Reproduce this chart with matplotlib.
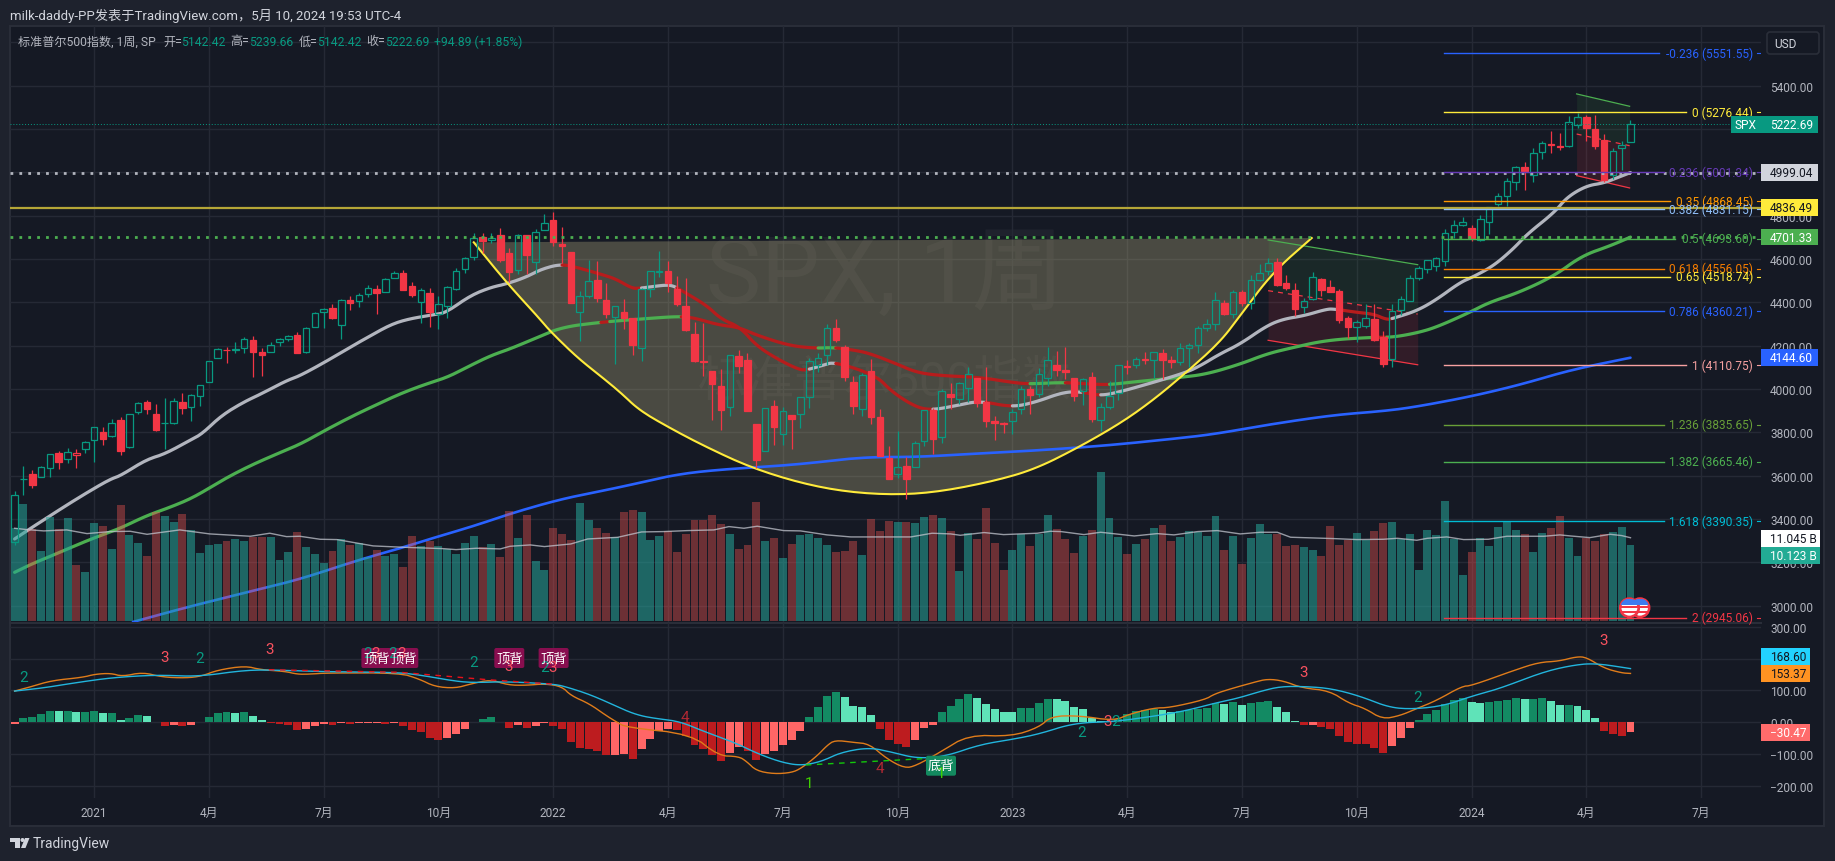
# -*- coding:utf-8 -*-
import numpy as np
import matplotlib
matplotlib.use('Agg')
import matplotlib.pyplot as plt
from matplotlib.patches import Rectangle, Circle, Polygon, FancyBboxPatch

plt.rcParams['font.family'] = ['Roboto', 'Noto Sans CJK SC', 'DejaVu Sans']

W, H = 1835, 862

opens = [3296,3583,3610,3594,3634,3705,3675,3694,3723,3764,3803,3781,3857,
         3731,3892,3939,3885,3842,3844,3942,3916,3969,4034,4142,4179,4185,
         4191,4228,4169,4170,4216,4229,4248,4173,4285,4356,4372,4296,4409,
         4406,4438,4461,4450,4513,4535,4474,4402,4442,4348,4385,4463,4553,
         4610,4701,4689,4712,4628,4548,4710,4587,4733,
         4778,4670,4632,4356,4431,4505,4412,4332,4354,4327,4188,4462,4541,
         4547,4462,4385,4256,4130,4081,4013,3919,4151,4134,3838,3715,3920,
         3792,3880,3883,3965,4112,4155,4281,4195,4034,3909,4083,3871,3682,
         3610,3647,3638,3762,3901,3780,3977,3956,4005,4052,3939,3853,3843,
         3853,3910,3999,3978,4049,4111,4090,4052,3992,4055,3856,3917,3982,
         4102,4110,4138,4134,4166,4136,4126,4190,4205,4282,4298,4396,4344,
         4450,4395,4505,4543,4584,4491,4458,4380,4415,4510,4473,4453,4330,
         4284,4289,4321,4239,4140,4364,4406,4512,4554,4569,4593,4726,4758,
         4745,4690,4772,4853,4892,4957,5026,4989,5093,5131,5123,5123,5219,
         5257,5201,5149,4987,5114,5142.42]
closes = [3509,3585,3557,3638,3699,3663,3709,3703,3756,3824,3768,3841,3714,
          3886,3934,3906,3811,3842,3943,3913,3974,4019,4128,4185,4180,4181,
          4232,4173,4155,4204,4229,4247,4166,4280,4352,4369,4327,4411,4395,
          4436,4468,4441,4509,4535,4458,4432,4455,4357,4391,4471,4544,4605,
          4697,4682,4697,4594,4538,4712,4620,4725,4766,
          4677,4662,4397,4431,4500,4418,4348,4384,4328,4204,4463,4543,4545,
          4488,4392,4271,4131,4123,4023,3901,4158,4108,3900,3674,3911,3825,
          3899,3863,3961,4130,4145,4280,4228,4057,3924,4067,3873,3693,3585,
          3639,3583,3752,3901,3770,3992,3965,4026,4071,3934,3852,3845,3839,
          3895,3999,3973,4070,4136,4090,4079,3970,4045,3861,3916,3970,4109,
          4105,4137,4133,4169,4136,4124,4191,4205,4282,4298,4409,4348,4450,
          4398,4505,4536,4582,4478,4464,4369,4405,4515,4457,4450,4320,4288,
          4308,4327,4224,4117,4358,4415,4514,4559,4595,4604,4719,4755,4770,
          4697,4783,4840,4891,4958,5027,5006,5089,5137,5124,5117,5234,5254,
          5204,5123,4967,5100,5128,5222.69]
highs = [3529,3646,3628,3644,3699,3712,3726,3723,3760,3826,3823,3861,3870,
         3887,3938,3950,3929,3960,3960,3983,3978,4020,4130,4191,4195,4219,
         4238,4245,4188,4219,4234,4250,4262,4286,4356,4372,4393,4415,4429,
         4441,4480,4480,4514,4546,4549,4492,4466,4466,4429,4475,4559,4608,
         4718,4718,4718,4743,4652,4714,4712,4740,4808,
         4819,4749,4632,4453,4596,4590,4490,4385,4416,4327,4466,4546,4637,
         4593,4520,4512,4308,4307,4081,4091,4158,4178,4168,3838,3913,3950,
         3918,3880,3964,4141,4167,4299,4325,4204,4062,4076,4139,3906,3736,
         3806,3685,3762,3905,3911,4001,4028,4034,4100,4052,4100,3876,3846,
         3906,4015,4015,4095,4195,4176,4195,4052,4049,4079,3937,4039,4110,
         4133,4150,4169,4170,4186,4154,4212,4212,4290,4323,4448,4409,4458,
         4456,4527,4578,4607,4607,4527,4490,4418,4542,4514,4505,4461,4338,
         4320,4394,4394,4268,4393,4428,4526,4568,4596,4610,4739,4778,4794,
         4755,4802,4842,4907,4975,5030,5048,5112,5145,5190,5180,5262,5273,
         5264,5263,5179,5111,5146,5239.66]
lows = [3279,3511,3543,3594,3594,3633,3660,3636,3707,3663,3740,3780,3694,
        3726,3885,3884,3805,3723,3840,3885,3853,3923,4034,4142,4118,4165,
        4168,4056,4061,4170,4197,4220,4165,4165,4286,4281,4321,4233,4367,
        4379,4424,4347,4450,4513,4455,4427,4306,4288,4278,4329,4459,4537,
        4595,4630,4672,4585,4495,4532,4531,4531,4733,
        4662,4582,4395,4222,4420,4401,4327,4114,4279,4157,4130,4424,4517,
        4450,4381,4267,4124,4062,3858,3810,3875,4073,3900,3636,3715,3741,
        3743,3721,3820,3911,4079,4112,4218,4037,3885,3876,3837,3693,3584,
        3591,3491,3638,3735,3698,3751,3906,3933,3938,3918,3827,3765,3795,
        3794,3887,3885,3965,4015,4060,4047,3943,3925,3847,3808,3908,3951,
        4069,4098,4114,4049,4048,4099,4109,4103,4166,4268,4272,4341,4328,
        4385,4371,4500,4526,4474,4458,4335,4350,4411,4431,4448,4304,4235,
        4217,4283,4220,4104,4103,4340,4405,4505,4537,4546,4568,4699,4751,
        4682,4682,4714,4845,4845,4918,4920,4954,5061,5091,5105,5117,5203,
        5146,5107,4954,4969,5011,5142.42]

volumes = [12.35,15.53,12.21,9.29,13.85,12.21,13.67,7.43,6.50,13.01,12.61,9.56,15.40,11.42,10.35,8.63,14.42,13.94,13.14,14.20,
           12.08,9.03,10.09,10.22,10.62,10.88,10.62,11.15,11.15,11.15,8.10,9.16,11.81,9.82,8.89,7.70,9.29,10.88,10.09,10.35,
           8.50,9.42,8.63,8.89,7.17,11.28,9.96,10.62,9.96,9.56,8.89,10.35,11.28,9.82,10.22,8.50,14.60,11.02,14.07,
           7.96,6.77,12.35,11.55,10.75,15.66,13.41,12.35,11.68,11.15,14.47,14.73,14.47,10.75,11.28,11.95,9.16,11.55,13.41,13.41,
           14.07,12.88,11.55,9.56,10.09,15.80,10.62,11.02,8.36,10.22,11.42,11.55,11.02,10.09,9.16,9.29,10.62,8.76,13.54,11.95,
           13.27,13.14,13.14,13.01,13.81,14.07,13.67,11.95,6.64,11.68,10.88,15.00,10.35,6.77,9.42,11.55,9.96,11.55,14.07,
           12.21,10.88,9.03,11.28,12.08,19.78,13.67,11.15,8.89,10.22,10.88,12.35,12.74,10.62,11.15,11.95,11.81,11.28,13.94,9.42,
           11.28,7.57,11.02,12.88,11.55,11.55,9.96,10.09,9.82,9.42,8.63,12.61,10.09,10.75,11.68,10.75,11.95,13.01,13.14,10.88,
           11.55,6.77,12.08,11.42,15.93,10.88,6.11,9.16,11.02,9.96,12.48,13.14,12.08,11.55,9.16,11.68,12.35,13.94,11.02,8.67,
           11.06,10.62,11.55,11.77,12.48,10.123]

vol_ma_x = [0,1.4,3.3,5.9,8.2,10.8,13.1,15,18.7,22.1,26.7,28.9,30.8,32.3,34.6,36.5,40.6,44,48.5,50,52.3,55,56.1,58.4,
            60,63,64.9,68.3,71,73.5,76.2,79.2,80.9,82.6,84.1,87.1,89,92,94.7,99.9,101.5,103.9,106,107.1,109.8,112,115.8,117.3,
            118.5,121.1,123,126.8,129.4,131.3,134,136.2,138.8,141.1,143,144.5,149.4,152,155,156.6,158.8,160,162.2,164.1,166.9,169,173.2,175,176.2,
            178.4,180.7,182,183]
vol_ma = [12.3,12.12,11.95,12.08,11.59,11.86,11.9,11.5,12.08,11.55,11.24,11.64,11.19,11.24,10.84,10.8,9.96,9.78,9.6,9.47,9.65,9.56,9.91,10.09,
          9.87,10.22,10.88,11.1,11.81,11.86,11.99,12.08,12.52,12.3,12.57,11.99,11.95,11.42,11.15,11.15,11.15,11.64,11.55,11.37,11.73,11.46,11.64,11.9,
          11.86,11.46,11.77,11.28,11.59,11.42,11.86,11.99,11.55,11.77,11.77,11.11,10.93,10.8,10.84,10.97,10.71,10.97,11.15,10.8,10.84,11.24,11.24,11.42,11.28,
          11.06,11.5,11.33,11.045]

ema_white_x = [0,1.7,3.9,6.4,8.9,10.9,12,14.9,17,19.8,21.2,23.4,25.9,27.9,30.8,32.2,35.1,37.3,40,42.7,44.9,47.6,48.9,51.6,53.9,55.7,57.9,59.7,61.9,
               63.8,66.3,68.1,69.9,70.8,72.1,73.7,74.6,75.9,78.4,80,82.2,84,86.4,88.9,89.8,91.4,92.9,97.6,99.4,102.1,103.9,106.6,109.3,112.9,115.6,118.7,120.7,122.9,125,129,
               132.7,134.3,136.5,138.8,141.8,143.7,146,148.6,149.5,152,153.9,155.4,156.1,158.8,161,163.7,165.2,167.5,169.7,171.3,174.4,175.8,178,180,181.6,183]
ema_white = [3308,3354,3412,3477,3539,3585,3600,3674,3700,3762,3792,3877,3939,3977,4039,4059,4123,4177,4239,4300,4326,4343,4354,4431,4469,4485,4516,4554,4577,
             4560,4531,4508,4465,4465,4472,4480,4477,4446,4385,4323,4285,4200,4138,4088,4089,4108,4126,4062,3985,3916,3903,3923,3946,3916,3939,3985,3988,3969,3985,4031,
             4077,4108,4162,4208,4292,4323,4338,4369,4369,4354,4346,4320,4326,4361,4412,4492,4518,4569,4646,4715,4816,4885,4938,4951,4977,4999.04]
ema_green_x = [0,1.9,5.1,8.65,11.8,14.9,17.6,20.3,23.4,26.3,29.2,32.4,35.1,38.2,40.9,43.6,46.3,49,51.2,53.9,56.1,58.8,61.9,66.3,
               70.8,75.3,77,79.7,82,84.2,87.8,90.7,92.7,95,96.8,99.9,102.1,104.8,109.3,112.9,114.9,118.7,121.8,123.9,126.3,132.1,
               135,138.8,141.8,144.4,148.6,153.9,156.1,158.8,161,164.8,167,170.4,174.4,177.5,180.7,183]
ema_green = [3154,3192,3246,3308,3354,3415,3454,3500,3577,3639,3692,3746,3808,3874,3926,3977,4019,4054,4100,4154,4185,4231,4285,4308,
             4323,4336,4328,4296,4285,4246,4200,4188,4192,4180,4165,4116,4077,4062,4054,4031,4023,4031,4023,4020,4031,4054,
             4069,4115,4162,4188,4226,4239,4239,4259,4285,4354,4400,4446,4523,4615,4661,4701.33]
ema_blue_x = [13.4,19.4,27,32.4,38.7,44,47.6,52.1,56.6,61.9,66.3,69.9,74.8,79.7,88.7,95.9,102.1,108,115.6,123.6,131.2,135.9,141.7,149.3,154.7,158.3,165,170.8,176.2,183]
ema_blue = [2925,2992,3069,3123,3208,3269,3315,3369,3431,3492,3528,3559,3605,3628,3651,3686,3686,3700,3716,3739,3770,3792,3834,3880,3897,3915,3966,4023,4088,4144.6]

arc_x = [52,55.7,59.5,60.6,63.7,66.3,68.6,70.8,74.4,78,83.1,88.7,94,99.7,104.8,111.1,115.6,120.5,125.4,129.1,132.7,136.5,138.8,142.5,146.9]
arc_y = [4677,4492,4323,4269,4146,4062,3985,3900,3816,3739,3642,3569,3526,3511,3526,3577,3631,3731,3846,3954,4077,4216,4339,4539,4697]

hist = [-5,14,17,26,36,35,36,32,33,36,29,30,7,14,23,20,1,-12,-8,-12,-8,1,17,29,32,29,32,20,7,-1,-5,-8,-24,-21,-12,-5,-8,-3,-5,-3,-2,-1,-5,-2,
        -12,-24,-30,-49,-55,-49,-37,-21,0,10,17,1,-18,-8,-18,-11,-1,-12,-21,-62,-81,-84,-90,
        -103,-102,-101,-115,-84,-52,-27,-21,-24,-43,-71,-84,-103,-121,-96,-77,-90,-118,-99,-90,-71,-55,-27,
        17,48,83,95,79,51,48,23,-21,-55,-68,-77,-55,-18,-8,
        32,51,73,89,76,58,42,32,31,45,46,61,73,72,67,48,42,14,3,0,10,26,36,39,42,39,32,36,39,42,45,61,
        58,63,54,60,64,67,48,33,4,-10,-7,-15,-21,-43,-61,-68,-69,-80,-96,-74,-49,-18,7,26,38,57,70,75,64,60,64,67,70,76,73,74,75,67,54,55,51,38,14,-27,-37,-43,-30.47]

dea_x = [0,3.3,7.3,11.3,16.3,20.7,26.1,29.7,34.2,43.1,45.8,49,51.6,55.7,61,62.4,65.5,
         69,70.8,72.6,75.3,78,81.5,84.2,86.9,89.1,91.4,93.6,96.8,99.4,102.1,105.3,109.3,112.9,116,120,124.5,129,132.6,
         135.9,138.6,141.3,143.5,146.6,149.3,152.5,155.6,158.3,161.9,165,168.1,173,176.2,178.9,183]
dea = [98,108,126,141,149,143,164,164,159,157,149,133,124,128,120,112,84,
       39,21,12,3,-28,-63,-99,-126,-136,-123,-94,-79,-94,-113,-108,-70,-54,-37,-2,2,19,36,
       60,76,99,113,112,105,81,47,41,52,82,105,157,178,186,168.6]
dif_x = [0,1.9,4.2,7.7,9.1,10.9,12.2,14.5,16.7,19.4,21.2,23,26.1,27.9,30.6,32,33.3,35.5,43.6,45.8,47.6,49.9,51.6,53.9,55.9,57.9,60.1,62,63,65.1,66.9,68.1,69.3,
         76.6,79.7,82,82.9,84,86,88,89.1,90.9,92,92.9,95,96.8,98.8,100.8,102.1,104.8,108,112.9,116,117.4,120.5,124.5,126.3,129,130.8,134.8,
         135.9,137.7,140.4,141.9,143.7,145.8,148.9,151.1,152.9,154.9,156.9,158.7,161,163.9,165,169.9,172.6,174.9,176.9,178,180,182,183]
dif = [98,112,131,141,151,154,144,157,142,139,145,164,177,165,160,151,151,155,155,136,112,107,120,134,117,116,121,112,84,58,23,2,-16,
       -37,-105,-107,-123,-152,-162,-158,-144,-105,-73,-56,-63,-68,-115,-144,-136,-94,-40,-44,-16,19,21,5,26,45,46,71,
       89,105,126,136,130,108,99,60,44,10,21,42,68,113,115,164,188,192,206,204,170,155,153.37]

fib_ratios = ['-0.236','0','0.236','0.35','0.382','0.5','0.618','0.65','0.786','1','1.236','1.382','1.618','2']
fib_levels = [5551.55,5276.44,5001.34,4868.45,4831.15,4693.60,4556.05,4518.74,4360.21,4110.75,3835.65,3665.46,3390.35,2945.06]
fib_colors = ['#2962ff','#ffeb3b','#673ab7','#ff9800','#90bff9','#4caf50','#f57c00','#ffeb3b','#2962ff','#f7a1a1','#689f38','#4caf50','#00bcd4','#f23645']

price_ticks = [3000,3200,3400,3600,3800,4000,4200,4400,4600,4800,5000,5200,5400]
hidden_ticks = [5000,5200]
macd_ticks = [-200,-100,0,100,200,300]
time_ticks = [9,22,35,48,61,74,87,100,113,126,139,152,165,178,191]
time_labels = ['2021','4月','7月','10月','2022','4月','7月','10月','2023','4月','7月','10月','2024','4月','7月']

GREEN = '#089981'
RED = '#f23645'
GREY = '#b2b5be'
GRID = '#252935'
BG = '#151924'
OUTER = '#1e222d'

opens, closes, highs, lows = map(np.array, (opens, closes, highs, lows))
n = len(closes)
x = np.arange(n)


def px_x(px):
    # chart pixel column to bar index
    return (px - 14.6) / 8.83


def rect(x0, y0, x1, y1):
    return [x0 / W, 1 - y1 / H, (x1 - x0) / W, (y1 - y0) / H]


def rounded(xs, ys, passes=3):
    # cut the corners of a line read point by point, the ends stay put
    xs = np.array(xs, dtype=float)
    ys = np.array(ys, dtype=float)
    for _ in range(passes):
        qx = 0.75 * xs[:-1] + 0.25 * xs[1:]
        rx = 0.25 * xs[:-1] + 0.75 * xs[1:]
        qy = 0.75 * ys[:-1] + 0.25 * ys[1:]
        ry = 0.25 * ys[:-1] + 0.75 * ys[1:]
        xs = np.concatenate([[xs[0]], np.column_stack([qx, rx]).ravel(), [xs[-1]]])
        ys = np.concatenate([[ys[0]], np.column_stack([qy, ry]).ravel(), [ys[-1]]])
    return xs, ys


def segments(axis, xs, ys, ranges, lw):
    xs, ys = rounded(xs, ys)
    for a, b, c in ranges:
        m = (xs > a) & (xs < b)
        xx = np.concatenate([[a], xs[m], [b]])
        axis.plot(xx, np.interp(xx, xs, ys), color=c, linewidth=lw, solid_capstyle='round', zorder=3)


fig = plt.figure(figsize=(W / 100, H / 100), dpi=100, facecolor=OUTER)

bg = fig.add_axes([0, 0, 1, 1], zorder=0)
bg.set_xlim(0, W)
bg.set_ylim(H, 0)
bg.axis('off')
bg.add_patch(Rectangle((10, 27), 1814, 800, facecolor=BG, edgecolor='#2a2e39', linewidth=1.4))
bg.text(885, 277, 'SPX, 1周', fontsize=67, color='#ffffff', alpha=0.045, ha='center', va='center')
bg.text(885, 383, '标准普尔500指数', fontsize=35, color='#ffffff', alpha=0.045, ha='center', va='center')

xlim = (px_x(10), px_x(1761))
ax = fig.add_axes(rect(10, 27, 1761, 623), zorder=1)
ax_vol = fig.add_axes(rect(10, 27, 1761, 623), zorder=2)
ax_top = fig.add_axes(rect(10, 27, 1761, 623), zorder=3)
ax_macd = fig.add_axes(rect(10, 624, 1761, 799), zorder=1)

for a in (ax, ax_vol, ax_top, ax_macd):
    a.patch.set_alpha(0)
    a.set_xlim(*xlim)
    for s in a.spines.values():
        s.set_visible(False)

price_lim = (2924.8, 5675.5)
for a in (ax, ax_top):
    a.set_ylim(*price_lim)
ax_vol.set_ylim(-0.13, 78.9)
ax_macd.set_ylim(-237.6, 311.7)

ax.yaxis.tick_right()
ax.set_yticks(price_ticks, ['' if t in hidden_ticks else '%.2f' % t for t in price_ticks])
ax.set_xticks(time_ticks, [])
ax.tick_params(axis='both', length=0, labelcolor=GREY, labelsize=8.6, pad=6.5)
ax.grid(True, color=GRID, linewidth=1)
ax.axhline(5600, color=GRID, linewidth=1)
ax.set_axisbelow(True)
for t in ax.get_yticklabels():
    t.set_ha('left')
ax_vol.axis('off')
ax_top.axis('off')

ax_macd.yaxis.tick_right()
ax_macd.set_yticks(macd_ticks, [('%.2f' % t).replace('-', '\u2212') for t in macd_ticks])
ax_macd.set_xticks(time_ticks, time_labels)
ax_macd.tick_params(axis='both', length=0, labelcolor=GREY, labelsize=8.6)
ax_macd.tick_params(axis='y', pad=6.5)
ax_macd.tick_params(axis='x', pad=6)
ax_macd.grid(True, color=GRID, linewidth=1)
ax_macd.set_axisbelow(True)
bg.plot([10, 1761], [623.5, 623.5], color='#2a2e39', linewidth=1.5, zorder=5)

# arc (cup)
arc_sx, arc_sy = rounded(arc_x, arc_y)
ax.fill(arc_sx, arc_sy, color='#b8b080', alpha=0.33, linewidth=0, zorder=1)
ax.plot(arc_sx, arc_sy, color='#ffeb3b', linewidth=1.5, zorder=4)

# channels
ax.fill_between([141.96, 158.9], [4688, 4574], [4454, 4346], color='#4caf50', alpha=0.1, linewidth=0)
ax.fill_between([141.96, 158.9], [4454, 4346], [4225, 4112], color=RED, alpha=0.13, linewidth=0)
ax.plot([141.96, 158.9], [4688, 4574], color='#4caf50', linewidth=0.9)
ax.plot([141.96, 158.9], [4454, 4346], color=RED, linewidth=0.9, linestyle=(0, (4, 4)))
ax.plot([141.96, 158.9], [4225, 4112], color=RED, linewidth=0.9)
ax.fill_between([176.9, 182.9], [5362, 5305], [5177, 5123], color='#4caf50', alpha=0.1, linewidth=0)
ax.fill_between([176.9, 182.9], [5177, 5123], [4985, 4928], color=RED, alpha=0.13, linewidth=0)
ax.plot([176.9, 182.9], [5362, 5305], color='#4caf50', linewidth=0.9)
ax.plot([176.9, 182.9], [5177, 5123], color=RED, linewidth=0.9, linestyle=(0, (4, 4)))
ax.plot([176.9, 182.9], [4985, 4928], color=RED, linewidth=0.9)

# moving averages
ma_white = '#b2b5be'
ma_green = '#4caf50'
ma_red = '#b71c1c'
segments(ax, ema_blue_x, ema_blue, [(13.4, 183, '#2962ff')], 1.9)
segments(ax, ema_green_x, ema_green,
         [(0, 66.4, ma_green), (66.4, 67.4, ma_red), (67.4, 75.5, ma_green), (75.5, 91, ma_red), (91, 93, ma_green),
          (93, 115, ma_red), (115, 119, ma_green), (119, 124, ma_red), (124, 153.9, ma_green), (153.9, 155.4, ma_red),
          (155.4, 183, ma_green)], 2.3)
segments(ax, ema_white_x, ema_white,
         [(0, 62, ma_white), (62, 71, ma_red), (71, 75, ma_white), (75, 90, ma_red), (90, 93, ma_white),
          (93, 104, ma_red), (104, 110, ma_white), (110, 113, ma_red), (113, 121, ma_white), (121, 123, ma_red),
          (123, 150, ma_white), (150, 156, ma_red), (156, 183, ma_white)], 2.3)

# volume
up = np.concatenate([[True], closes[1:] >= closes[:-1]])
vol_colors = [(0x26 / 255, 0xa6 / 255, 0x9a / 255, 0.55) if u else (0xef / 255, 0x53 / 255, 0x50 / 255, 0.4) for u in up]
ax_vol.bar(x, volumes, width=0.9, color=vol_colors, linewidth=0)
ax_vol.plot(vol_ma_x, vol_ma, color='#c3c6cf', linewidth=1, alpha=0.75)

# candles, hollow when close above open, colour from previous close
cols = [GREEN if u else RED for u in up]
faces = [(0, 0, 0, 0) if c >= o else col for c, o, col in zip(closes, opens, cols)]
body_lo = np.minimum(opens, closes)
body_hi = np.maximum(opens, closes)
ax_top.vlines(x, lows, body_lo, colors=cols, linewidth=0.9, zorder=3)
ax_top.vlines(x, body_hi, highs, colors=cols, linewidth=0.9, zorder=3)
ax_top.bar(x, body_hi - body_lo, bottom=body_lo, width=0.74, color=faces, edgecolor=cols, linewidth=0.9, zorder=4)

# horizontal rays
ax_top.axhline(5222.69, color=GREEN, linewidth=0.7, linestyle=(0, (1, 2)), zorder=5)
ax_top.axhline(4999.04, color='#b2b5be', linewidth=2, linestyle=(0, (1, 2.2)), zorder=5)
ax_top.axhline(4836.49, color='#b5a637', linewidth=1.6, zorder=5)
ax_top.axhline(4701.33, color='#4caf50', linewidth=2, linestyle=(0, (1, 2.2)), zorder=5)

# fibonacci levels
for r, lv, c in zip(fib_ratios, fib_levels, fib_colors):
    label = '%s (%.2f)' % (r, lv)
    end_px = 1752.8 - 5.5 * len(label) - 6
    ax_top.plot([px_x(1443.5), px_x(end_px)], [lv, lv], color=c, linewidth=1, zorder=5)
    ax_top.plot([px_x(1757), px_x(1761)], [lv, lv], color=c, linewidth=0.8, zorder=5)
    ax_top.text(px_x(1752.8), lv, label, color=c, fontsize=8.6, ha='right', va='center', zorder=6)

# macd
hist_arr = np.array(hist, dtype=float)
hist_colors = []
for i, v in enumerate(hist_arr):
    prev = hist_arr[i - 1] if i else v
    if v >= 0:
        hist_colors.append('#138a63' if v > prev else '#5fe3b8')
    else:
        hist_colors.append('#bd1c1f' if v < prev else '#ff6666')
ax_macd.bar(x, hist_arr, width=0.9, color=hist_colors, linewidth=0, zorder=2)
ax_macd.plot(*rounded(dif_x, dif, 2), color='#e07c1a', linewidth=1, zorder=3)
ax_macd.plot(*rounded(dea_x, dea), color='#22b5dd', linewidth=1, zorder=3)
ax_macd.plot([28.8, 43.6, 53.9, 61], [165, 157, 133, 120], color='#e8101a', linewidth=1, linestyle=(0, (4, 4)), zorder=4)
ax_macd.plot([89.6, 104.4], [-134, -112], color='#12c80a', linewidth=1, linestyle=(0, (4, 4)), zorder=4)

# everything in screen pixels from here on
ov = fig.add_axes([0, 0, 1, 1], zorder=10)
ov.set_xlim(0, W)
ov.set_ylim(H, 0)
ov.axis('off')
ov.patch.set_alpha(0)

ov.text(10, 15.5, 'milk-daddy-PP发表于TradingView.com，5月 10, 2024 19:53 UTC-4', fontsize=9.5, color='#d1d4dc', va='center')
for px, s, c in [(18, '标准普尔500指数, 1周, SP', GREY), (163, '开=', GREY), (181.5, '5142.42', GREEN), (230.5, '高=', GREY),
                 (249, '5239.66', GREEN), (298.5, '低=', GREY), (316.7, '5142.42', GREEN), (366, '收=', GREY),
                 (384.7, '5222.69', GREEN), (434, '+94.89 (+1.85%)', GREEN)]:
    ov.text(px, 42, s, fontsize=8.7, color=c, va='center')

# usd button
ov.add_patch(FancyBboxPatch((1767, 33), 52, 22, boxstyle='round,pad=0,rounding_size=3', facecolor=BG, edgecolor='#2a2e39', linewidth=1.2))
ov.text(1774, 44.7, 'USD', fontsize=8.6, color='#d1d4dc', va='center')


def tag(axis, val, text, bg_c, fg, x1=1818, y=None):
    # the platform pushes colliding axis labels apart, y overrides the value position
    if y is None:
        y = H - axis.transData.transform((0, val))[1]
    ov.add_patch(Rectangle((1761, y - 8.4), x1 - 1761, 16.8, facecolor=bg_c, linewidth=0))
    ov.text(1770, y, text, fontsize=8.6, color=fg, va='center')
    return y


y_spx = tag(ax, 5222.69, '5222.69', '#089981', '#ffffff')
ov.add_patch(Rectangle((1731, y_spx - 8.4), 29.5, 16.8, facecolor='#089981', linewidth=0))
ov.text(1745.5, y_spx, 'SPX', fontsize=8.6, color='#ffffff', va='center', ha='center')
tag(ax, 4999.04, '4999.04', '#d1d4dc', '#131722')
tag(ax, 4836.49, '4836.49', '#ffeb3b', '#131722')
tag(ax, 4701.33, '4701.33', '#4caf50', '#ffffff')
tag(ax, 4144.60, '4144.60', '#2962ff', '#ffffff')
tag(ax_vol, 11.045, '11.045 B', '#ffffff', '#131722', x1=1820, y=539.3)
tag(ax_vol, 10.123, '10.123 B', '#22ab94', '#ffffff', x1=1820, y=556.7)
tag(ax_macd, 168.60, '168.60', '#22d3ff', '#131722', x1=1810, y=657.3)
tag(ax_macd, 153.37, '153.37', '#ff9322', '#131722', x1=1810, y=674.3)
tag(ax_macd, -30.47, '\u221230.47', '#ff6b6b', '#ffffff', x1=1810, y=733.3)

# divergence labels and wave numbers
for cx, cy, s, c in [(376.4, 659, '顶背', '#880e4f'), (403.3, 659, '顶背', '#880e4f'), (509.3, 659, '顶背', '#880e4f'),
                     (553.6, 659, '顶背', '#880e4f'), (941, 766.7, '底背', '#138a5f')]:
    ov.add_patch(FancyBboxPatch((cx - 15, cy - 10), 30, 20, boxstyle='round,pad=0,rounding_size=2', facecolor=c, linewidth=0, zorder=2))
for px, py, s, c in [(23.3, 677.7, '2', GREEN), (164.5, 657.7, '3', '#f7525f'), (199.3, 658.7, '2', GREEN), (270, 649.7, '3', '#f7525f'),
                     (367.5, 654, '2', GREEN), (375.5, 654, '3', '#f7525f'), (393, 654, '2', GREEN), (401.5, 654, '3', '#f7525f'),
                     (473.3, 662.7, '2', GREEN), (508.5, 667, '3', '#f7525f'), (544.8, 668, '2', GREEN), (552.3, 668, '3', '#f7525f'),
                     (685, 718.3, '4', '#b22833'), (808.8, 784, '1', '#3fd000'), (879.6, 769, '4', '#b22833'), (941.2, 774.3, '1', '#3fd000'),
                     (1082, 732.7, '2', GREEN), (1108, 721.7, '3', '#f7525f'), (1116, 721.7, '2', GREEN),
                     (1303.2, 672.7, '3', '#f7525f'), (1417.5, 698, '2', GREEN), (1603.3, 640.7, '3', '#f7525f')]:
    ov.text(px, py, s, fontsize=11, color=c, ha='center', va='center', zorder=3)
for cx, cy, s, c in [(376.4, 659, '顶背', '#880e4f'), (403.3, 659, '顶背', '#880e4f'), (509.3, 659, '顶背', '#880e4f'),
                     (553.6, 659, '顶背', '#880e4f'), (941, 766.7, '底背', '#138a5f')]:
    ov.text(cx, cy, s, fontsize=9.5, color='#ffffff', ha='center', va='center', zorder=4)

# news flags
for cx in (1640, 1629.4):
    ov.add_patch(Circle((cx, 608.7), 10.3, facecolor='#131722', linewidth=0, zorder=5))
    ring = Circle((cx, 608.7), 9.2, facecolor='#ffffff', edgecolor=RED, linewidth=1.8, zorder=5)
    ov.add_patch(ring)
    for sy in (607, 611.5):
        st = Rectangle((cx - 9, sy), 18, 2.2, facecolor=RED, linewidth=0, zorder=6)
        ov.add_patch(st)
        st.set_clip_path(ring)
    can = Rectangle((cx - 9, 599.5), 18, 6.5, facecolor='#3d7bf0', linewidth=0, zorder=6)
    ov.add_patch(can)
    can.set_clip_path(ring)

# footer logo
ov.add_patch(Rectangle((10, 839), 10, 4, facecolor='#d1d4dc', linewidth=0))
ov.add_patch(Rectangle((15, 839), 5, 10, facecolor='#d1d4dc', linewidth=0))
ov.add_patch(Circle((22.5, 841), 2, facecolor='#d1d4dc', linewidth=0))
ov.add_patch(Polygon([(25, 839), (29.5, 839), (25.5, 849), (21, 849)], facecolor='#d1d4dc', linewidth=0))
ov.text(33, 844, 'TradingView', fontsize=10, color='#d1d4dc', va='center')

fig.savefig('out.png', dpi=100, facecolor=OUTER)
